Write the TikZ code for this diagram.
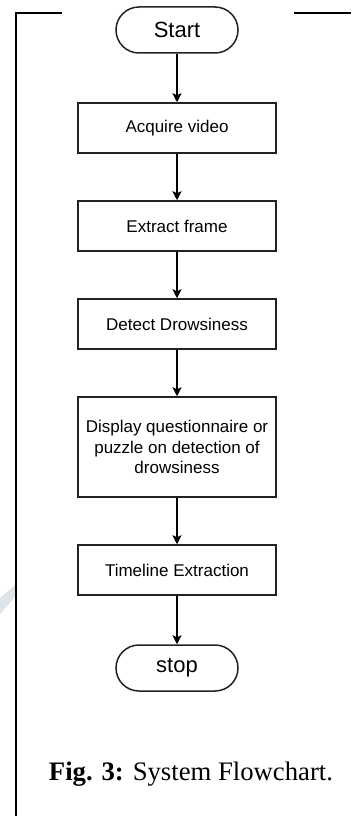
\documentclass[tikz,border=0pt]{standalone}
\usepackage{fontspec}
\setmainfont{Liberation Serif}
\newfontfamily\boxfont{Liberation Sans}
\usetikzlibrary{shapes.misc,arrows.meta}
\definecolor{wm}{HTML}{DFE4E8}
\definecolor{edge}{HTML}{222222}
\tikzset{
  procbox/.style={draw=edge,line width=1.5pt,rectangle,minimum width=198pt,minimum height=50pt,inner sep=2pt,align=center,font=\boxfont\fontsize{17}{20.5}\selectfont},
  termbox/.style={draw=edge,line width=1.5pt,rounded rectangle,minimum width=122pt,minimum height=46pt,inner sep=0pt,font=\boxfont\fontsize{22}{24}\selectfont},
  flow/.style={line width=1.8pt,-{Stealth[length=9pt,width=9pt,inset=2pt]}},
  framel/.style={line width=2pt,black}
}
\begin{document}
\begin{tikzpicture}[x=1pt,y=-1pt]
\useasboundingbox (0,0) rectangle (351,816);
% watermark fragment
\fill[wm] (0,598) -- (15,585) -- (15,597) -- (0,614) -- cycle;
% frame
\draw[framel] (62,13) -- (16,13) -- (16,816);
\draw[framel] (294,13) -- (351,13);
% nodes
\node[termbox] (start) at (177,30) {Start};
\node[procbox] (acq) at (177,128) {Acquire video};
\node[procbox] (ext) at (177,226) {Extract frame};
\node[procbox] (det) at (177,324) {Detect Drowsiness};
\node[procbox,minimum height=100pt] (disp) at (177,447) {Display questionnaire or\\puzzle on detection of\\drowsiness};
\node[procbox] (time) at (177,570) {Timeline Extraction};
\node[termbox] (stop) at (177,668) {stop};
% connectors
\draw[flow] (start) -- (acq);
\draw[flow] (acq) -- (ext);
\draw[flow] (ext) -- (det);
\draw[flow] (det) -- (disp);
\draw[flow] (disp) -- (time);
\draw[flow] (time) -- (stop);
% caption
\node[anchor=base,inner sep=0pt,font=\fontsize{26.7}{30}\selectfont] (cap) at (191,780) {\textbf{Fig. 3:} System Flowchart.};
\end{tikzpicture}
\end{document}
